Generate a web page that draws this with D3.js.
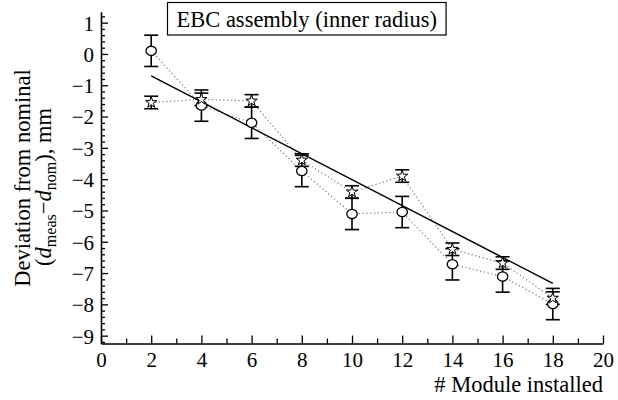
<!DOCTYPE html>
<html>
<head>
<meta charset="utf-8">
<script src="https://cdn.jsdelivr.net/npm/d3@7"></script>
<style>
  html, body { margin: 0; padding: 0; background: #fff; }
</style>
</head>
<body>
<svg id="chart" width="618" height="400"></svg>
<script>
// Module numbers along the x axis
const modules = [2, 4, 6, 8, 10, 12, 14, 16, 18];
// Circle series: deviation and its error (mm)
const circleValues = [0.1, -1.65, -2.2, -3.74, -5.11, -5.05, -6.72, -7.11, -7.99];
const circleErrors = [0.5, 0.5, 0.5, 0.5, 0.5, 0.5, 0.5, 0.5, 0.5];
// Star series: deviation and its error (mm)
const starValues = [-1.55, -1.45, -1.5, -3.39, -4.41, -3.9, -6.24, -6.68, -7.8];
const starErrors = [0.2, 0.2, 0.2, 0.2, 0.2, 0.2, 0.2, 0.2, 0.2];
// Linear fit endpoints
const fitX = [2, 18];
const fitY = [-0.70, -7.33];
// Axis ticks
const xTicks = [0, 2, 4, 6, 8, 10, 12, 14, 16, 18, 20];
const xMinorTicks = [1, 3, 5, 7, 9, 11, 13, 15, 17, 19];
const yTicks = [1, 0, -1, -2, -3, -4, -5, -6, -7, -8, -9];
const yMinorTicks = d3.range(-46, 7).map(i => i / 5).filter(v => !Number.isInteger(v));

const SERIF = "'Liberation Serif'";
const svg = d3.select("#chart").attr("font-family", SERIF);
const x = d3.scaleLinear().domain([0, 20]).range([101, 603]);
const y = d3.scaleLinear().domain([-9.25, 1.35]).range([343.5, 11.7]);
const fmt = v => (v < 0 ? "\u2212" + Math.abs(v) : String(v));

// Axes with inward ticks
const xAxis = svg.append("g").attr("transform", `translate(0,${y(-9.25)})`)
  .call(d3.axisBottom(x).tickValues(xTicks).tickFormat(fmt).tickSizeInner(-8).tickSizeOuter(0).tickPadding(23.5));
svg.append("g").attr("transform", `translate(0,${y(-9.25)})`)
  .call(d3.axisBottom(x).tickValues(xMinorTicks).tickFormat("").tickSizeInner(-5).tickSizeOuter(0))
  .select(".domain").remove();
const yAxis = svg.append("g").attr("transform", `translate(${x(0)},0)`)
  .call(d3.axisLeft(y).tickValues(yTicks).tickFormat(fmt).tickSizeInner(-7).tickSizeOuter(0).tickPadding(7));
svg.append("g").attr("transform", `translate(${x(0)},0)`)
  .call(d3.axisLeft(y).tickValues(yMinorTicks).tickFormat("").tickSizeInner(-4).tickSizeOuter(0))
  .select(".domain").remove();

svg.selectAll("g").attr("font-family", SERIF);
svg.selectAll(".domain").attr("stroke", "#000").attr("stroke-width", 1.6);
svg.selectAll(".tick line").attr("stroke", "#000").attr("stroke-width", 1.3);
svg.selectAll(".tick text").attr("font-size", 21).attr("font-family", SERIF).attr("fill", "#000");
xAxis.selectAll(".tick text").attr("dy", "0");
yAxis.selectAll(".tick text").attr("dy", "0.35em");

// Axis titles
svg.append("text").attr("x", x(20)).attr("y", 392).attr("text-anchor", "end")
  .attr("font-family", SERIF).attr("font-size", 22.5).text("# Module installed");

const yl = svg.append("g").attr("transform", "translate(0,178) rotate(-90)").attr("font-family", SERIF);
yl.append("text").attr("x", 0).attr("y", 30).attr("text-anchor", "middle")
  .attr("font-family", SERIF).attr("font-size", 22.5).text("Deviation from nominal");
const t2 = yl.append("text").attr("x", -9).attr("y", 51).attr("text-anchor", "middle")
  .attr("font-family", SERIF).attr("font-size", 22.5);
t2.append("tspan").text("(");
t2.append("tspan").attr("font-style", "italic").text("d");
t2.append("tspan").attr("font-size", 16).attr("dy", 5).text("meas");
t2.append("tspan").attr("dy", -5).text("\u2212");
t2.append("tspan").attr("font-style", "italic").text("d");
t2.append("tspan").attr("font-size", 16).attr("dy", 5).text("nom");
t2.append("tspan").attr("dy", -5).text("), mm");

// Connecting dotted lines
const line = d3.line().x(d => x(d[0])).y(d => y(d[1]));
const circlePts = modules.map((m, i) => [m, circleValues[i]]);
const starPts = modules.map((m, i) => [m, starValues[i]]);
[circlePts, starPts].forEach(pts => {
  svg.append("path").attr("d", line(pts)).attr("fill", "none")
    .attr("stroke", "#777").attr("stroke-width", 1.2).attr("stroke-dasharray", "1.2,2.6");
});

// Fit line
svg.append("path").attr("d", line(fitX.map((v, i) => [v, fitY[i]])))
  .attr("fill", "none").attr("stroke", "#000").attr("stroke-width", 1.5);

// Error bars
function errorBars(vals, errs) {
  const g = svg.append("g").attr("stroke", "#000").attr("stroke-width", 1.6);
  modules.forEach((m, i) => {
    const cx = x(m), top = y(vals[i] + errs[i]), bot = y(vals[i] - errs[i]);
    g.append("line").attr("x1", cx).attr("x2", cx).attr("y1", top).attr("y2", bot);
    g.append("line").attr("x1", cx - 7).attr("x2", cx + 7).attr("y1", top).attr("y2", top);
    g.append("line").attr("x1", cx - 7).attr("x2", cx + 7).attr("y1", bot).attr("y2", bot);
  });
}
errorBars(circleValues, circleErrors);
errorBars(starValues, starErrors);

// Circle markers
svg.append("g").selectAll("ellipse").data(circlePts).join("ellipse")
  .attr("cx", d => x(d[0])).attr("cy", d => y(d[1]))
  .attr("rx", 5.2).attr("ry", 4.6)
  .attr("fill", "#fff").attr("stroke", "#000").attr("stroke-width", 1.3);

// Star markers
const star = d3.symbol().type(d3.symbolStar).size(40);
svg.append("g").selectAll("path").data(starPts).join("path")
  .attr("transform", d => `translate(${x(d[0])},${y(d[1])})`)
  .attr("d", star).attr("fill", "#fff").attr("stroke", "#000").attr("stroke-width", 1);

// Title box, sized around its text
const box = svg.append("rect").attr("fill", "#fff").attr("stroke", "#000").attr("stroke-width", 1.2);
const title = svg.append("text").attr("x", 176.5).attr("y", 27)
  .attr("font-family", SERIF).attr("font-size", 22.5).text("EBC assembly (inner radius)");
const tw = title.node().getComputedTextLength();
box.attr("x", 167.5).attr("y", 2.5).attr("width", tw + 18).attr("height", 32.5);
</script>
</body>
</html>
